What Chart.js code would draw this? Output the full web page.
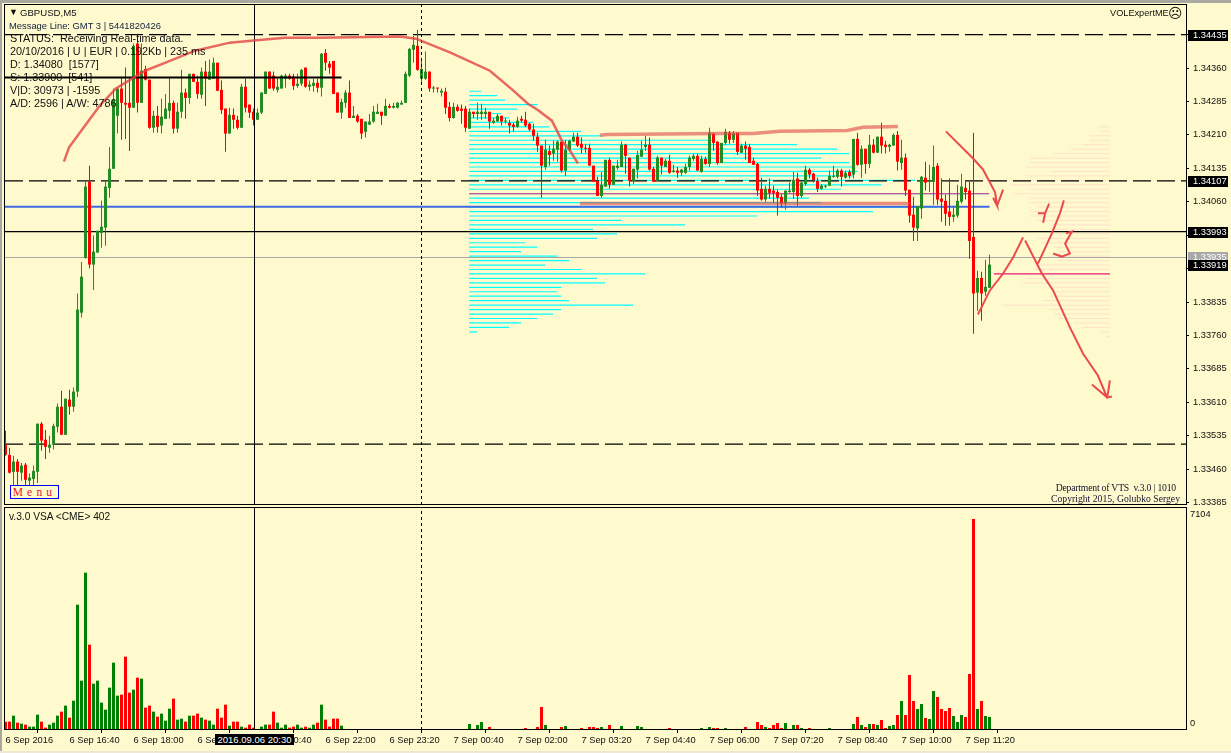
<!DOCTYPE html>
<html>
<head>
<meta charset="utf-8">
<title>GBPUSD,M5</title>
<script src="https://cdn.jsdelivr.net/npm/chart.js@4"></script>
<style>
    html, body { margin: 0; padding: 0; width: 1231px; height: 753px; overflow: hidden; background: #FFFACD; }
    canvas { position: absolute; left: 0; }
    #priceChart { top: 0; }
    #volumeChart { top: 507px; }
    .edge { position: absolute; background: #A8A8A0; }
    .txt { position: absolute; white-space: pre; color: #101010; font-family: "Liberation Sans", sans-serif; line-height: 13px; }
    .info { left: 10px; font-size: 10.8px; }
    .serif { font-family: "Liberation Serif", serif; font-size: 9.7px; color: #101030; text-align: right; }
    #menuBox { position: absolute; left: 10px; top: 485px; width: 47px; height: 12px; border: 1.5px solid #0000FF; background: #FFFACD;
        color: #F01030; font: 11.5px/12px "Liberation Serif", serif; letter-spacing: 4.2px; text-align: center; }
    #timeBox { position: absolute; left: 215px; top: 734px; width: 79px; height: 11px; background: #000; color: #fff;
        font: 9.5px/11px "Liberation Sans", sans-serif; text-align: center; white-space: pre; }
</style>
</head>
<body>
<canvas id="priceChart" width="1231" height="506"></canvas>
<canvas id="volumeChart" width="1231" height="246"></canvas>

<div class="edge" style="left:0;top:0;width:1231px;height:3px"></div>
<div class="edge" style="left:0;top:0;width:2px;height:753px"></div>
<div class="edge" style="left:0;top:751px;width:1231px;height:2px;background:#ECE8D4"></div>

<div class="txt" style="left:9px;top:6px;font-size:9px">▼</div>
<div class="txt" style="left:20px;top:6px;font-size:9.6px">GBPUSD,M5</div>
<div class="txt" style="left:9px;top:19px;font-size:9.4px;color:#102040">Message Line: GMT 3 | 5441820426</div>
<div class="txt info" style="top:32px">STATUS:  Receiving Real-time data.</div>
<div class="txt info" style="top:45px">20/10/2016 | U | EUR | 0.192Kb | 235 ms</div>
<div class="txt info" style="top:58px">D: 1.34080  [1577]</div>
<div class="txt info" style="top:71px">S: 1.33900  [541]</div>
<div class="txt info" style="top:84px">V|D: 30973 | -1595</div>
<div class="txt info" style="top:97px">A/D: 2596 | A/W: 4786</div>
<div class="txt" style="left:1110px;top:7px;font-size:9.2px">VOLExpertME</div>
<div class="txt" style="left:1168px;top:7px;font:14px/13px 'DejaVu Sans'">☹</div>
<div class="txt serif" style="left:1040px;width:136px;top:481px;letter-spacing:-0.2px">Department of VTS  v.3.0 | 1010</div>
<div class="txt serif" style="left:1040px;width:140px;top:492px">Copyright 2015, Golubko Sergey</div>
<div id="menuBox">Menu</div>
<div class="txt" style="left:9px;top:510px;font-size:10.2px">v.3.0 VSA &lt;CME&gt; 402</div>
<div id="timeBox">2016.09.06 20:30</div>

<script>
// ==================== DATA ====================
// prices are kept as points above 1.0 (33515 = 1.33515)

const opens = [
    33515,33492,33454,33477,33452,33470,33434,33438,33454,33562,
    33526,33508,33515,33555,33600,33537,33616,33600,33634,33811,
    33934,34105,33919,33946,33990,34002,34091,34134,34253,34314,
    34282,34282,34271,34415,34282,34358,34334,34226,34253,34231,
    34246,34264,34282,34224,34262,34305,34293,34347,34329,34300,
    34352,34334,34336,34372,34311,34269,34213,34255,34244,34226,
    34318,34278,34262,34244,34260,34302,34352,34343,34311,34314,
    34336,34343,34341,34320,34325,34361,34318,34320,34327,34316,
    34394,34370,34376,34305,34260,34282,34305,34248,34253,34246,
    34217,34233,34240,34257,34262,34253,34275,34271,34271,34278,
    34282,34343,34401,34410,34336,34336,34352,34314,34316,34305,
    34307,34273,34248,34273,34269,34269,34224,34262,34257,34257,
    34257,34262,34237,34240,34253,34240,34237,34233,34228,34246,
    34244,34235,34222,34206,34186,34138,34174,34168,34177,34195,
    34130,34177,34195,34206,34190,34181,34181,34141,34107,34073,
    34094,34154,34098,34136,34138,34188,34159,34107,34132,34161,
    34183,34188,34134,34107,34159,34138,34152,34127,34130,34125,
    34125,34138,34156,34163,34127,34156,34145,34213,34195,34147,
    34192,34215,34199,34215,34170,34186,34183,34152,34145,34089,
    34065,34089,34085,34082,34071,34056,34082,34082,34112,34073,
    34100,34132,34123,34107,34089,34094,34096,34116,34116,34130,
    34114,34127,34121,34201,34143,34179,34145,34188,34170,34206,
    34188,34183,34186,34210,34147,34159,34087,34031,34000,34045,
    34114,34105,34105,34141,34067,34062,34038,34026,34029,34060,
    34091,34085,33981,33856,33889,33858,33867
];
const highs = [
    33546,33508,33490,33483,33474,33474,33450,33468,33562,33566,
    33548,33535,33562,33607,33636,33618,33638,33643,33854,33925,
    34107,34141,33984,33995,34062,34107,34183,34314,34316,34338,
    34361,34338,34415,34437,34415,34365,34334,34264,34275,34291,
    34302,34338,34287,34282,34356,34314,34347,34347,34343,34361,
    34376,34379,34383,34372,34332,34269,34271,34269,34253,34325,
    34336,34278,34269,34269,34305,34352,34352,34352,34338,34345,
    34347,34347,34347,34347,34358,34361,34332,34336,34336,34394,
    34403,34376,34376,34305,34291,34311,34332,34275,34257,34246,
    34240,34257,34275,34280,34262,34291,34280,34282,34284,34287,
    34352,34405,34432,34446,34381,34397,34352,34320,34316,34314,
    34316,34284,34282,34278,34278,34275,34269,34262,34282,34280,
    34271,34262,34248,34257,34253,34248,34244,34237,34251,34253,
    34262,34237,34235,34215,34186,34199,34186,34197,34197,34195,
    34199,34199,34215,34215,34204,34190,34190,34141,34116,34127,
    34154,34159,34141,34154,34195,34190,34159,34134,34174,34197,
    34208,34204,34138,34163,34159,34156,34165,34143,34138,34134,
    34145,34163,34168,34168,34163,34161,34226,34215,34195,34192,
    34224,34219,34219,34215,34190,34195,34190,34159,34147,34114,
    34096,34112,34096,34087,34078,34085,34103,34127,34125,34105,
    34141,34136,34125,34114,34100,34098,34130,34141,34134,34134,
    34130,34132,34201,34215,34186,34179,34210,34201,34206,34237,
    34197,34190,34213,34219,34199,34168,34087,34071,34049,34118,
    34150,34143,34186,34147,34112,34076,34112,34051,34098,34123,
    34107,34105,34215,33905,33903,33930,33941
];
const lows = [
    33490,33450,33416,33423,33434,33423,33423,33423,33429,33501,
    33483,33497,33504,33542,33537,33537,33582,33589,33622,33800,
    33932,33910,33862,33946,33957,33961,34069,34134,34213,34199,
    34201,34174,34271,34260,34282,34332,34224,34215,34215,34213,
    34246,34246,34213,34215,34248,34246,34280,34329,34291,34291,
    34275,34334,34336,34309,34257,34172,34213,34224,34222,34226,
    34260,34248,34231,34244,34257,34302,34314,34309,34305,34314,
    34316,34334,34311,34316,34320,34316,34309,34307,34305,34296,
    34354,34347,34302,34260,34246,34271,34248,34248,34237,34201,
    34204,34233,34237,34257,34233,34253,34269,34269,34269,34278,
    34282,34340,34372,34354,34323,34334,34307,34305,34305,34296,
    34257,34240,34246,34262,34235,34217,34224,34248,34244,34244,
    34246,34224,34235,34240,34231,34235,34213,34217,34226,34237,
    34228,34219,34197,34172,34069,34132,34141,34152,34150,34125,
    34118,34174,34195,34183,34168,34170,34141,34105,34073,34069,
    34094,34089,34098,34132,34138,34123,34094,34100,34112,34161,
    34174,34130,34105,34107,34121,34138,34123,34125,34114,34118,
    34123,34130,34152,34130,34125,34143,34138,34174,34143,34147,
    34188,34190,34192,34165,34170,34154,34147,34143,34073,34062,
    34060,34067,34058,34029,34047,34042,34080,34067,34051,34069,
    34096,34112,34103,34082,34087,34091,34096,34114,34112,34094,
    34112,34112,34112,34141,34114,34123,34136,34168,34170,34168,
    34168,34172,34186,34130,34132,34073,34013,33972,33972,34022,
    34085,34082,34053,34053,34015,34006,34006,34015,34024,34056,
    34065,33932,33764,33815,33793,33849,33867
];
const closes = [
    33492,33452,33477,33454,33468,33436,33441,33456,33562,33524,
    33510,33515,33557,33600,33537,33618,33600,33634,33818,33892,
    34094,33919,33948,33995,34004,34094,34134,34289,34314,34282,
    34278,34271,34410,34282,34354,34334,34226,34253,34228,34251,
    34269,34282,34224,34262,34305,34293,34347,34329,34302,34352,
    34336,34352,34372,34309,34266,34213,34255,34244,34226,34318,
    34271,34260,34244,34260,34305,34352,34314,34314,34318,34343,
    34343,34336,34320,34325,34356,34318,34323,34327,34316,34392,
    34372,34361,34302,34260,34284,34305,34248,34253,34240,34213,
    34240,34240,34262,34262,34253,34275,34271,34275,34282,34282,
    34347,34403,34412,34356,34358,34352,34314,34316,34314,34309,
    34271,34248,34273,34264,34264,34226,34262,34257,34262,34262,
    34262,34240,34242,34253,34240,34242,34231,34228,34242,34242,
    34231,34222,34208,34186,34141,34177,34165,34179,34195,34130,
    34177,34197,34206,34186,34181,34179,34141,34105,34073,34098,
    34154,34098,34141,34141,34188,34163,34107,34134,34165,34177,
    34188,34132,34105,34159,34141,34152,34125,34130,34125,34132,
    34138,34159,34163,34130,34156,34145,34215,34192,34147,34192,
    34217,34199,34213,34172,34186,34179,34147,34143,34085,34065,
    34089,34080,34080,34069,34056,34085,34085,34109,34073,34103,
    34132,34121,34109,34089,34096,34096,34118,34118,34130,34116,
    34125,34118,34201,34143,34179,34145,34188,34170,34206,34186,
    34183,34188,34210,34150,34159,34085,34029,34002,34049,34116,
    34103,34107,34138,34065,34060,34033,34026,34031,34062,34094,
    34082,33972,33854,33889,33854,33869,33919
];
const volumes = [
    267,267,459,235,203,171,107,107,491,267,
    75,171,235,459,587,779,395,939,4011,1579,
    5035,2731,1483,1579,875,651,1355,2155,1099,1131,
    2347,1195,1291,1675,1643,715,779,587,427,523,
    299,683,1003,331,363,267,459,459,523,395,
    331,299,171,683,395,811,139,267,267,107,
    75,171,75,21,107,171,171,587,235,75,
    171,75,107,171,75,107,75,171,235,811,
    331,107,363,363,139,0,0,0,0,0,
    0,0,0,0,0,0,0,0,0,0,
    0,0,0,0,0,0,0,0,0,0,
    0,0,0,0,0,0,192,32,160,256,
    32,96,32,32,32,32,32,32,32,32,
    64,32,32,96,736,160,32,32,32,96,
    128,32,32,32,64,32,96,96,64,96,
    32,160,32,32,128,32,32,32,128,96,
    32,32,21,32,32,32,64,21,32,32,
    32,32,32,32,64,32,96,64,64,32,
    64,32,32,32,32,96,32,32,256,160,
    96,64,160,224,64,224,32,160,160,64,
    32,64,32,32,32,32,64,32,32,32,
    32,32,192,416,160,96,192,192,160,320,
    64,128,160,480,928,480,1760,928,672,832,
    384,352,1248,1056,672,608,704,448,256,480,
    416,1792,6752,672,928,448,416
];
const neutralVolumeBars = [120, 125, 153, 196, 205, 207];

const priceTicks = [34435,34360,34285,34210,34135,34060,33985,33910,33835,33760,33685,33610,33535,33460,33385];
const timeLabels = ['6 Sep 2016','6 Sep 16:40','6 Sep 18:00','6 Sep 19:20','6 Sep 20:40','6 Sep 22:00','6 Sep 23:20','7 Sep 00:40',
    '7 Sep 02:00','7 Sep 03:20','7 Sep 04:40','7 Sep 06:00','7 Sep 07:20','7 Sep 08:40','7 Sep 10:00','7 Sep 11:20'];
const timeTickBars = [0,16,32,48,64,80,96,112,128,144,160,176,192,208,224,240];
const volumeTicks = [7104, 0];

// levels on the right hand price tags
const dashedLevels = [34435, 34107, 33516];
const solidLevel = 33993;
const bidLevel = 33935;
const lastLevel = 33919;
const blueLevel = 34049;
const boldLevel = 34339;
const crossBar = 62.25;
const separatorBar = 104;

// volume profile rows (left one runs right from its start, right one runs left from its end)
const profilePrices = [
    34308,34298,34288,34278,34268,34258,34248,34238,34228,34218,34208,34198,34188,34178,34168,34158,34148,34138,34128,
    34118,34108,34098,34088,34078,34068,34058,34048,34038,34028,34018,34008,33998,33988,33978,33968,33958,33948,33938,
    33928,33918,33908,33898,33888,33878,33868,33858,33848,33838,33828,33818,33808,33798,33788,33778,33768
];
const profileLengths = [
    3,7,9,17,12,8,10,16,20,28,33,61.5,82,92,95,88,95,96,97,
    96,111.5,103,93,130,85,88,117,101,72,38,54,31,37,32,14,17,13,22,
    25,19,28,44,32,34,23,22,23,25,41,23,21,17,13,10,2
];
const pocPrice = 34078;
const sidePrices = [
    34228,34218,34208,34198,34188,34178,34168,34158,34148,34138,34128,34118,34108,34098,34088,34078,
    34068,34058,34048,34038,34028,34018,34008,33998,33988,33978,33968,33958,33948,33938,33928,33918,
    33908,33898,33888,33878,33868,33858,33848,33838,33828,33818,33808,33798,33788,33778,33768,33758
];
const sideLengths = [
    3,2,5,5,7,10,14,20,20,21,15,21,25,25,20,24,
    20,20,18,20,20,18,15,14,15,18,17,14,13,15,13,17.5,
    19,29,21,22,15,14,15,17,27,15,14,13,9,7,2,1
];
const sidePocPrice = 33898;

// hand drawn marks on the chart, null breaks a stroke
const arcBars = [14.6,15.9,19.9,23.6,27.6,34.9,39.4,47.4,56.1,62.1,69.9,78.6,98.6,102.6,111.1,121.1,126.9,130.6,132.9,136.6,138.1,139.1,141.1,143.1];
const arcPrices = [34150,34182,34231,34276,34314,34354,34370,34399,34417,34422,34428,34428,34431,34426,34395,34354,34310,34280,34267,34242,34215,34197,34175,34146];
const rangeBars = [148.6,150.4,178.6,186.9,193.6,210.4,214.4,223.1,null,143.6,226.1];
const rangePrices = [34209,34211,34213,34213,34218,34220,34227,34229,null,34056,34056];
const penBars = [
    235.1,241.9,244.4,247.4,247.9,246.9,null,247.9,249.4,null,
    243.1,246.1,249.4,251.9,254.4,null,
    254.9,259.1,261.9,266.1,269.4,273.1,275.4,null,
    271.6,275.4,276.6,null,276.1,275.4,null,
    258.1,261.6,263.6,264.6,null,
    258.1,259.9,260.9,null,259.9,259.4,null,
    265.1,266.6,264.9,266.1,264.1,261.9
];
const penPrices = [
    34218,34157,34132,34081,34051,34069,null,34051,34087,null,
    33807,33861,33899,33935,33980,null,
    33973,33899,33861,33778,33719,33670,33621,null,
    33650,33621,33623,null,33659,33618,null,
    33921,33989,34034,34063,null,
    34034,34034,34056,null,34034,34013,null,
    33989,33993,33966,33944,33937,33944
];

// ==================== HELPERS ====================

const AXIS_FONT = { family: 'Liberation Sans', size: 9.3 };
const BAR_MIN = -0.125;
const BAR_MAX = 295.125;
const PRICE_MIN = 1.333795;
const PRICE_MAX = 1.345015;
const PROFILE_START = 115.9;
const SIDE_END = 276.1;

const toPrice = pts => pts === null ? null : +(1 + pts / 100000).toFixed(5);
const priceText = pts => toPrice(pts).toFixed(5);

function zip(bars, prices) {
    return bars.map((b, i) => ({ x: b, y: toPrice(prices[i]) }));
}

function hLine(pts, from, to) {
    return [{ x: from, y: toPrice(pts) }, { x: to, y: toPrice(pts) }];
}

function lineSet(data, color, width, order, dash) {
    return {
        type: 'line', data, borderColor: color, borderWidth: width, borderDash: dash || [],
        pointRadius: 0, tension: 0, fill: false, spanGaps: false, order, borderCapStyle: 'butt'
    };
}

// rows of horizontal segments share one dataset, a null point splits them
function rowSegments(prices, lengths, anchor, dir) {
    const out = [];
    prices.forEach((p, i) => {
        out.push({ x: anchor, y: toPrice(p) }, { x: anchor + dir * lengths[i], y: toPrice(p) }, { x: null, y: null });
    });
    return out;
}

function zeroAxisPadding(scale) {
    scale.paddingLeft = 0;
    scale.paddingRight = 0;
    scale.paddingTop = 0;
    scale.paddingBottom = 0;
}

const isUp = i => closes[i] >= opens[i];
const barColor = i => isUp(i) ? '#228B22' : '#FF0000';

const paneFrame = {
    id: 'paneFrame',
    afterDraw(chart) {
        const { ctx, chartArea: a } = chart;
        ctx.save();
        ctx.strokeStyle = '#000';
        ctx.lineWidth = 1;
        ctx.strokeRect(a.left - 0.5, a.top - 0.5, a.right - a.left + 1, a.bottom - a.top);
        ctx.restore();
    }
};

const priceTags = {
    id: 'priceTags',
    afterDraw(chart) {
        const { ctx } = chart;
        const y = chart.scales.y;
        const tags = [
            [dashedLevels[0], '#000'], [dashedLevels[1], '#000'], [solidLevel, '#000'],
            [bidLevel, '#A8A8A8'], [lastLevel, '#000']
        ];
        ctx.save();
        ctx.font = '9.3px "Liberation Sans"';
        ctx.textBaseline = 'middle';
        tags.forEach(([pts, color]) => {
            const py = Math.round(y.getPixelForValue(toPrice(pts)));
            ctx.fillStyle = color;
            ctx.fillRect(1188, py - 5, 40, 11);
            ctx.fillStyle = '#fff';
            ctx.fillText(priceText(pts), 1193, py + 0.5);
        });
        ctx.restore();
    }
};

// ==================== PRICE PANE ====================

const allBars = opens.map((o, i) => i);
const fullRange = p => [{ x: p, y: PRICE_MIN }, { x: p, y: PRICE_MAX }];

new Chart(document.getElementById('priceChart'), {
    type: 'bar',
    data: {
        datasets: [
            lineSet(zip(arcBars, arcPrices), 'rgba(226,66,66,0.8)', 2.5, 1),
            lineSet(zip(rangeBars, rangePrices), 'rgba(224,70,70,0.6)', 3.5, 2),
            lineSet(zip(penBars, penPrices), 'rgba(232,66,66,0.95)', 2, 3),
            lineSet(hLine(boldLevel, BAR_MIN, 84), '#000', 2, 4),
            lineSet(fullRange(crossBar), '#000', 1, 5),
            lineSet(fullRange(separatorBar), '#000', 1, 6, [3, 3]),
            {
                label: 'body',
                data: allBars.map(i => ({ x: i, y: [toPrice(Math.min(opens[i], closes[i])), toPrice(Math.max(opens[i], closes[i]))] })),
                backgroundColor: allBars.map(barColor),
                barThickness: 3, grouped: false, inflateAmount: 0, minBarLength: 1, order: 10
            },
            {
                label: 'wick',
                data: allBars.map(i => ({ x: i, y: [toPrice(lows[i]), toPrice(highs[i])] })),
                backgroundColor: allBars.map(barColor),
                barThickness: 1, grouped: false, inflateAmount: 0, order: 11
            },
            ...dashedLevels.map((lvl, i) => lineSet(hLine(lvl, BAR_MIN, BAR_MAX), '#000', 1.2, 12 + i, [18, 6])),
            lineSet(hLine(solidLevel, BAR_MIN, BAR_MAX), '#000', 1.1, 15),
            lineSet(hLine(bidLevel, BAR_MIN, BAR_MAX), '#A8A8A8', 1.1, 16),
            lineSet(hLine(blueLevel, BAR_MIN, 246), '#4169E1', 2, 17),
            lineSet(hLine(pocPrice, PROFILE_START, PROFILE_START + profileLengths[23]), '#E8207A', 1.2, 18),
            lineSet(hLine(sidePocPrice, SIDE_END, SIDE_END - sideLengths[33]), '#E8207A', 1.2, 19),
            lineSet(rowSegments(profilePrices, profileLengths, PROFILE_START, 1), '#00FFFF', 1.2, 20),
            lineSet(rowSegments(sidePrices, sideLengths, SIDE_END, -1), '#FFE0CC', 1, 21)
        ]
    },
    options: {
        responsive: false,
        animation: false,
        events: [],
        layout: { padding: { left: 5, top: 5, right: 0, bottom: 1 } },
        plugins: { legend: { display: false }, tooltip: { enabled: false } },
        scales: {
            x: { type: 'linear', display: false, min: BAR_MIN, max: BAR_MAX, offset: false },
            y: {
                type: 'linear',
                position: 'right',
                min: PRICE_MIN,
                max: PRICE_MAX,
                border: { display: false },
                grid: { drawOnChartArea: false, tickLength: 3, color: '#000' },
                ticks: {
                    autoSkip: false, color: '#101010', font: AXIS_FONT, padding: 4,
                    callback: v => v.toFixed(5)
                },
                afterBuildTicks(scale) { scale.ticks = priceTicks.map(p => ({ value: toPrice(p) })); },
                afterFit(scale) { scale.width = 45; zeroAxisPadding(scale); }
            }
        }
    },
    plugins: [paneFrame, priceTags]
});

// ==================== VOLUME PANE ====================

const VOLUME_MAX = 7104;
// labels sit inside the pane: 7104 just under the top, 0 just above the base
const volumeLabelAt = { 7104: 6912, 0: 224 };
const volumeColor = i => neutralVolumeBars.includes(i) ? '#FF00FF' : (isUp(i) ? '#008000' : '#FF0000');

new Chart(document.getElementById('volumeChart'), {
    type: 'bar',
    data: {
        datasets: [
            lineSet([{ x: crossBar, y: 0 }, { x: crossBar, y: VOLUME_MAX }], '#000', 1, 1),
            lineSet([{ x: separatorBar, y: 0 }, { x: separatorBar, y: VOLUME_MAX }], '#000', 1, 2, [3, 3]),
            {
                label: 'volume',
                data: allBars.map(i => ({ x: i, y: volumes[i] })),
                backgroundColor: allBars.map(volumeColor),
                barThickness: 3, grouped: false, inflateAmount: 0, order: 3
            }
        ]
    },
    options: {
        responsive: false,
        animation: false,
        events: [],
        layout: { padding: { left: 5, top: 1, right: 0, bottom: 0 } },
        plugins: { legend: { display: false }, tooltip: { enabled: false } },
        scales: {
            x: {
                type: 'linear',
                min: BAR_MIN,
                max: BAR_MAX,
                offset: false,
                border: { display: false },
                grid: { drawOnChartArea: false, tickLength: 3, color: '#000' },
                ticks: {
                    autoSkip: false, maxRotation: 0, align: 'start', color: '#101010', font: AXIS_FONT, padding: 2,
                    callback: (v, idx) => timeLabels[idx]
                },
                afterBuildTicks(scale) { scale.ticks = timeTickBars.map(b => ({ value: b })); },
                afterFit(scale) { scale.height = 23; zeroAxisPadding(scale); }
            },
            y: {
                type: 'linear',
                position: 'right',
                min: 0,
                max: VOLUME_MAX,
                border: { display: false },
                grid: { drawOnChartArea: false, drawTicks: false },
                ticks: {
                    autoSkip: false, color: '#101010', font: AXIS_FONT, padding: 4,
                    callback: (v, idx) => String(volumeTicks[idx])
                },
                afterBuildTicks(scale) { scale.ticks = volumeTicks.map(v => ({ value: volumeLabelAt[v] })); },
                afterFit(scale) { scale.width = 45; zeroAxisPadding(scale); }
            }
        }
    },
    plugins: [paneFrame]
});
</script>
</body>
</html>
